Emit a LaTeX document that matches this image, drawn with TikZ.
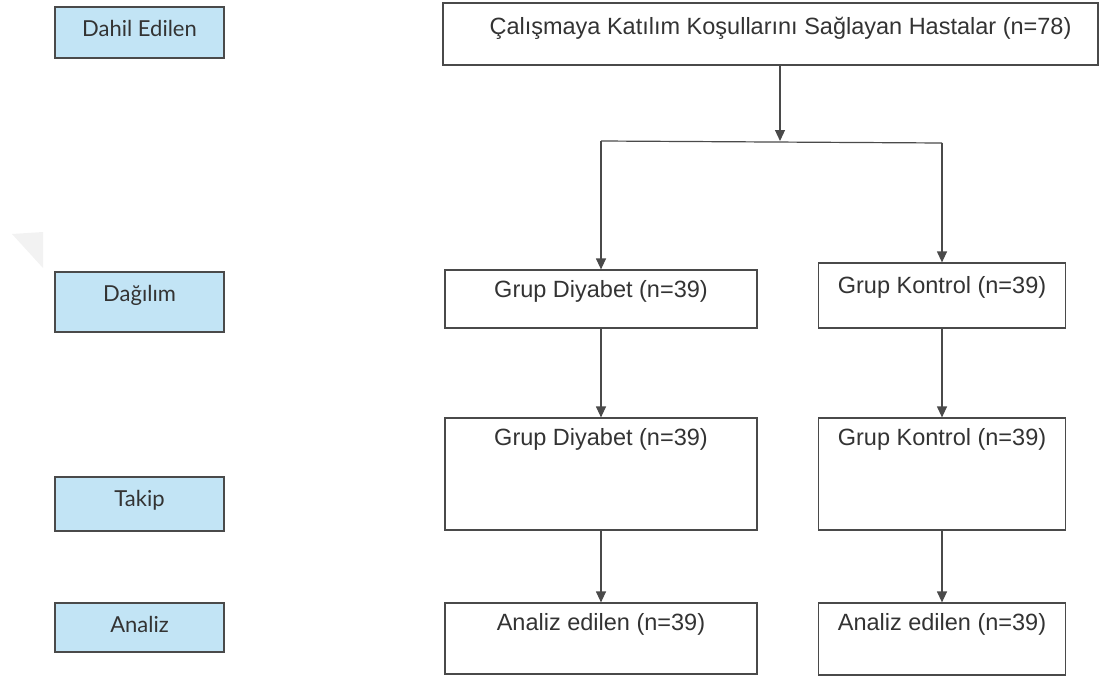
\documentclass[tikz,border=0pt]{standalone}
\usepackage{fontspec}
\setmainfont{Liberation Sans}
\newfontfamily\stagefont{Lato}
\usetikzlibrary{arrows.meta,positioning}
\definecolor{stage}{HTML}{C2E4F5}
\definecolor{edge}{HTML}{4A4A4A}
\definecolor{ink}{HTML}{333333}
\tikzset{stagebox/.style={draw=edge,fill=stage,line width=1.3pt,minimum width=169pt,inner sep=0pt},flowbox/.style={draw=edge,line width=1.2pt,inner sep=0pt},stagetext/.style={inner sep=0pt,text depth=0pt,yshift=-30pt,font=\stagefont\fontsize{22}{26}\selectfont,text=ink},flowtext/.style={inner sep=0pt,text depth=0pt,yshift=-28pt,font=\fontsize{23.5}{27}\selectfont,text=ink},arr/.style={-{Triangle[width=10pt,length=11pt]},line width=1.2pt,draw=edge},flowline/.style={line width=1.2pt,draw=edge}}

\begin{document}
\begin{tikzpicture}[x=1pt,y=-1pt]
\useasboundingbox (0,0) rectangle (1107,677);
\fill[black!5] (12,234) -- (43,232) -- (43,268) -- cycle;
% stages on the left
\node[stagebox,minimum height=51pt,label={[stagetext]north:Dahil Edilen}] (incl) at (139.5,32.5) {};
\node[stagebox,minimum height=60pt,label={[stagetext]north:Dağılım}] (alloc) at (139.5,302) {};
\node[stagebox,minimum height=54pt,label={[stagetext]north:Takip}] (follow) at (139.5,504) {};
\node[stagebox,minimum height=49pt,label={[stagetext]north:Analiz}] (anal) at (139.5,627.5) {};
% flow
\node[flowbox,minimum width=655pt,minimum height=62pt,label={[flowtext,yshift=-4pt,xshift=10pt]north:Çalışmaya Katılım Koşullarını Sağlayan Hastalar (n=78)}] (pat) at (770.5,34) {};
\node[flowbox,minimum width=312pt,minimum height=58pt,label={[flowtext]north:Grup Diyabet (n=39)}] (diab1) at (601,299) {};
\node[flowbox,minimum width=247pt,minimum height=65pt,label={[flowtext,yshift=-3pt]north:Grup Kontrol (n=39)}] (ctrl1) at (942,295.5) {};
\node[flowbox,minimum width=312pt,minimum height=112pt,label={[flowtext]north:Grup Diyabet (n=39)}] (diab2) at (601,474) {};
\node[flowbox,minimum width=247pt,minimum height=112pt,label={[flowtext]north:Grup Kontrol (n=39)}] (ctrl2) at (942,474) {};
\node[flowbox,minimum width=312pt,minimum height=71pt,label={[flowtext]north:Analiz edilen (n=39)}] (anal1) at (601,638.5) {};
\node[flowbox,minimum width=247pt,minimum height=72pt,label={[flowtext]north:Analiz edilen (n=39)}] (anal2) at (942,639) {};
\coordinate (split) at (780,141);
\coordinate (splitl) at (601,141);
\coordinate (splitr) at (942,143);
\draw[arr] (pat.south -| split) -- (split);
\draw[flowline] (splitl) -- (splitr);
\draw[arr] (splitl) -- (diab1);
\draw[arr] (splitr) -- (ctrl1);
\draw[arr] (diab1) -- (diab2);
\draw[arr] (ctrl1) -- (ctrl2);
\draw[arr] (diab2) -- (anal1);
\draw[arr] (ctrl2) -- (anal2);
\end{tikzpicture}
\end{document}
